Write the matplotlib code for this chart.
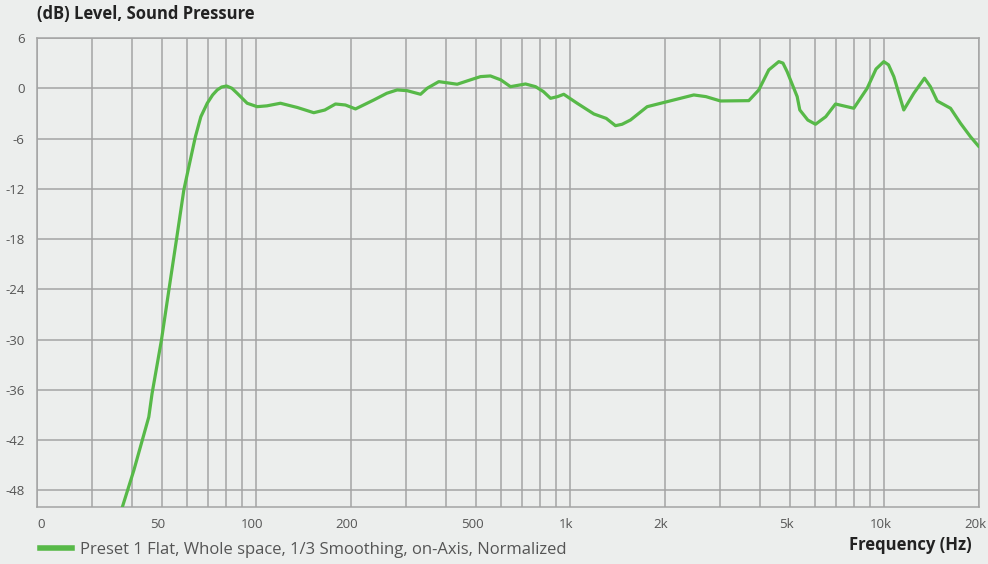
#!/usr/bin/env python3

# Sound pressure level vs frequency (log axis)

import matplotlib as mpl
mpl.use("Agg")

import matplotlib.pyplot as plt             # noqa
from matplotlib.lines import Line2D         # noqa
from matplotlib.transforms import ScaledTranslation  # noqa

plt.rcParams['font.family'] = ['Open Sans', 'DejaVu Sans']

# curve (Hz, dB)
freq = [37.4, 40.7, 43.3, 45.4, 46.5, 49.8, 52.6, 55.6, 58.7, 60.9, 63.9,
        66.5, 69.7, 72.5, 75.0, 77.5, 80.3, 83.5, 86.8, 93.4, 100.5, 108,
        119.2, 135, 152.2, 165, 178.5, 192, 206.7, 236.4, 260, 280.6, 301.9,
        333, 349.7, 380.7, 405, 435.7, 480, 517, 556, 600, 644, 719, 774,
        820, 864, 910, 952, 1050, 1187, 1300, 1391, 1460, 1553, 1755, 2032,
        2470, 2700, 3004, 3697, 3979, 4281, 4607, 4750, 4898, 5272, 5374,
        5700, 6031, 6500, 6982, 7986, 8809, 9400, 9949, 10300, 10710, 11520,
        12400, 13410, 14000, 14720, 16230, 17460, 18800, 20000]
level = [-50.0, -45.6, -42.0, -39.25, -36.45, -30.1, -24.1, -18.1, -12.15,
         -9.37, -5.78, -3.4, -1.79, -0.8, -0.2, 0.15, 0.27, 0.0, -0.6, -1.79,
         -2.2, -2.1, -1.79, -2.3, -2.92, -2.6, -1.88, -2.0, -2.47, -1.40,
         -0.6, -0.2, -0.29, -0.72, 0.0, 0.79, 0.65, 0.48, 1.0, 1.39, 1.47,
         1.0, 0.19, 0.51, 0.19, -0.4, -1.2, -1.0, -0.72, -1.79, -3.07, -3.6,
         -4.47, -4.3, -3.79, -2.2, -1.6, -0.8, -1.0, -1.52, -1.48, -0.2,
         2.19, 3.18, 3.0, 1.98, -1.0, -2.59, -3.8, -4.3, -3.4, -1.88, -2.39,
         0.0, 2.3, 3.18, 2.8, 1.39, -2.59, -0.6, 1.2, 0.2, -1.52, -2.39,
         -4.18, -5.8, -6.98]

series_name = 'Preset 1 Flat, Whole space, 1/3 Smoothing, on-Axis, Normalized'

# axis ticks
ytick_vals = [6, 0, -6, -12, -18, -24, -30, -36, -42, -48]
xgrid_vals = [20, 30, 40, 50, 60, 70, 80, 90,
              100, 200, 300, 400, 500, 600, 700, 800, 900,
              1000, 2000, 3000, 4000, 5000, 6000, 7000, 8000, 9000,
              10000, 20000]
xlabel_map = {20: '0', 50: '50', 100: '100', 200: '200', 500: '500',
              1000: '1k', 2000: '2k', 5000: '5k', 10000: '10k', 20000: '20k'}

BG = '#eceeed'
GRID = '#a4a4a4'
GREEN = '#57b948'
TXT = '#555555'

fig = plt.figure(figsize=(9.88, 5.64), dpi=100, facecolor=BG)
ax = fig.add_axes([37/988, 1-507/564, (979-37)/988, (507-38)/564])
ax.set_facecolor(BG)

ax.plot(freq, level, color=GREEN, lw=2.3, solid_joinstyle='round',
        solid_capstyle='round', zorder=3, clip_on=True)

ax.set_xscale('log')
ax.set_xlim(20, 20000)
ax.set_ylim(-50, 6)

ax.xaxis.set_minor_locator(mpl.ticker.NullLocator())
ax.set_xticks(xgrid_vals)
ax.set_xticklabels([xlabel_map.get(v, '') for v in xgrid_vals])
ax.set_yticks(ytick_vals)
ax.set_yticklabels([str(v) for v in ytick_vals])

ax.tick_params(axis='both', length=0, labelsize=9.5, labelcolor=TXT)
ax.tick_params(axis='x', pad=8)
ax.tick_params(axis='y', pad=9)
ax.grid(True, which='major', color=GRID, lw=1.1)
ax.set_axisbelow(True)
for sp in ax.spines.values():
  sp.set_color(GRID)
  sp.set_linewidth(1.1)

# x labels sit a little left of their grid line, the first one right of it
shift = ScaledTranslation(-4/100, 0, fig.dpi_scale_trans)
xlabels = ax.get_xticklabels()
for lbl in xlabels[1:]:
  lbl.set_transform(lbl.get_transform() + shift)
xlabels[0].set_horizontalalignment('left')

fig.text(37/988, 1-14/564, '(dB) Level, Sound Pressure', fontsize=12,
         fontweight='bold', color='#222222', va='center', ha='left')
fig.text(972/988, 1-545/564, 'Frequency (Hz)', fontsize=12,
         fontweight='bold', color='#222222', va='center', ha='right')

handle = Line2D([], [], color=GREEN, lw=4)
fig.legend([handle], [series_name], loc='center left',
           bbox_to_anchor=(40/988, 1-550/564), frameon=False,
           fontsize=12, labelcolor=TXT, handlelength=1.9,
           handletextpad=0.5, borderpad=0, borderaxespad=0)

plt.savefig('out.png', dpi=100, facecolor=BG)
